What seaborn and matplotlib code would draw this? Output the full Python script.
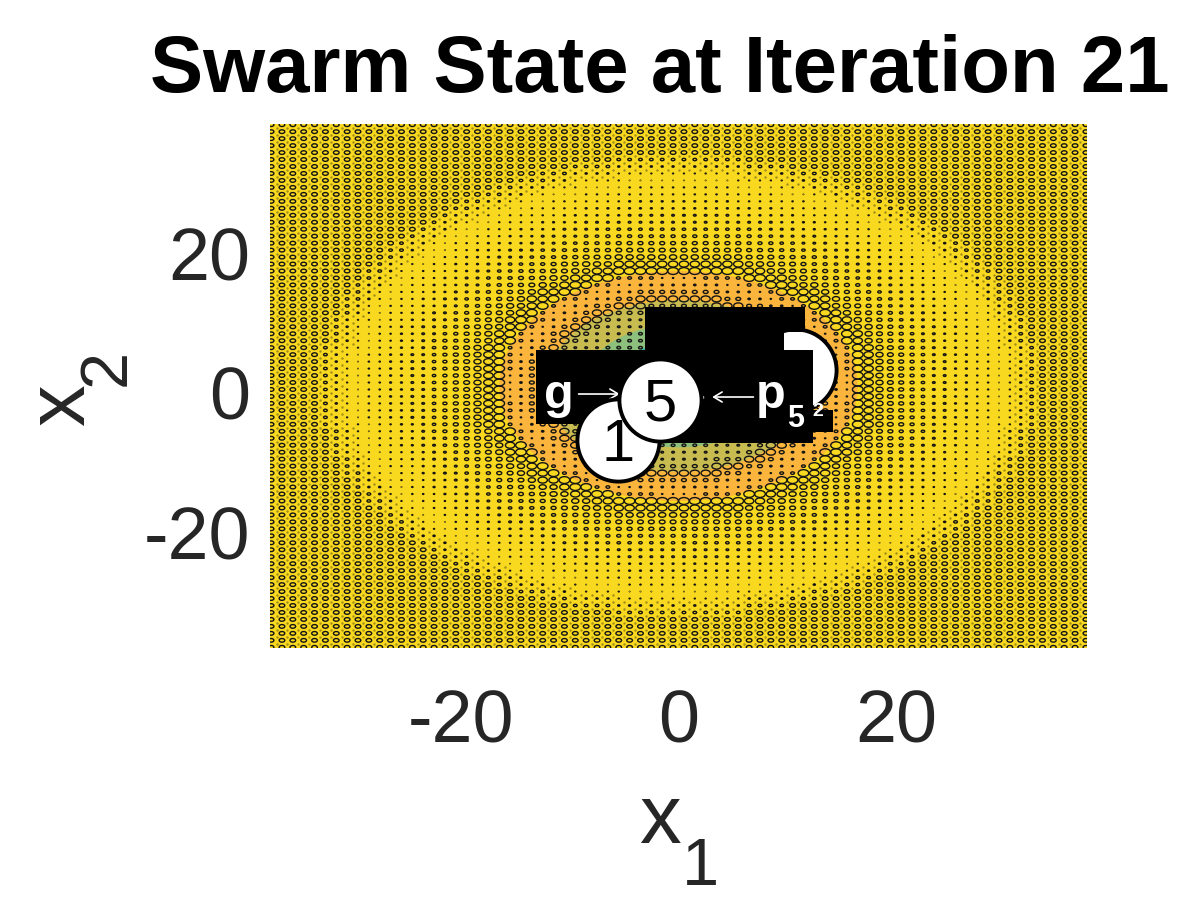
import numpy as np
import pandas as pd
import seaborn as sns
import matplotlib
matplotlib.use("Agg")
import matplotlib.pyplot as plt
from matplotlib.markers import MarkerStyle
from matplotlib.patches import Circle, Rectangle
from matplotlib.transforms import Affine2D, ScaledTranslation

# particles
particle_id = ["2", "1", "5"]
particle_x = [10.7, -5.6, -1.7]
particle_y = [2.3, -7.8, -2.0]

# colour bands, outermost first (radius)
band_radius = [16.5, 12.3, 8.8, 6.3]
band_colour = ["#fbb53c", "#c8bc50", "#8cc07c", "#40b8a0"]

# ring width (in x units) per radius step, no curve fit
step_edges = [9, 11, 12, 13, 14, 15, 15.6, 16.5, 17.5, 18.5, 19.5, 20.5, 21.5,
              22.5, 23.5, 25, 27, 29, 30, 31, 32, 33]
step_width = [0.35, 0.25, 0.45, 0.85, 0.45, 0.22, 0.12, 0.35, 0.98, 0.86, 0.66, 0.54, 0.46,
              0.38, 0.32, 0.25, 0.18, 0.12, 0.05, 0.1, 0.2, 0.34, 0.52]

x_ticks = [-20, 0, 20]
y_ticks = [-20, 0, 20]
limit = 37.6

sns.set_theme(style="white")
plt.rcParams["font.family"] = ["Liberation Sans", "DejaVu Sans"]
plt.rcParams["axes.unicode_minus"] = False

fig = plt.figure(figsize=(12, 9), dpi=100)
ax = fig.add_axes([270 / 1200, 1 - 648 / 900, 817 / 1200, 524 / 900])
ax.set_facecolor("#f9d820")
for radius, colour in zip(band_radius, band_colour):
    ax.add_patch(Circle((0, 0), radius, color=colour, lw=0, zorder=1))

# lattice of local minima, one ring per cell
centres = np.arange(-37.5, 38)
gx, gy = np.meshgrid(centres, centres)
rings = pd.DataFrame({"x": gx.ravel(), "y": gy.ravel()})
rings["width"] = np.array(step_width)[np.digitize(np.hypot(rings.x, rings.y), step_edges)]
ring_sizes = {w: (w * 10.87 * 0.72) ** 2 for w in rings.width.unique()}
ring_marker = MarkerStyle("o", transform=Affine2D().scale(1, 0.642))
sns.scatterplot(data=rings, x="x", y="y", size="width", sizes=ring_sizes, marker=ring_marker,
                facecolor="none", edgecolor="#141414", linewidth=1.0, legend=False, ax=ax, zorder=2)

# faint saddle dots between the outer rings
saddles = np.arange(-37, 38)
sx, sy = np.meshgrid(saddles, saddles)
far = pd.DataFrame({"x": sx.ravel(), "y": sy.ravel()})
far = far[np.hypot(far.x, far.y) > 30.5]
sns.scatterplot(data=far, x="x", y="y", s=3, color="#4a4410", linewidth=0, alpha=0.5,
                legend=False, ax=ax, zorder=2)

parts = pd.DataFrame({"id": particle_id, "x": particle_x, "y": particle_y})
circle_style = dict(x="x", y="y", s=3500, color="white", edgecolor="black", linewidth=2.8,
                    legend=False, ax=ax, clip_on=False)

# particle 2 sits under the black label boxes
sns.scatterplot(data=parts.iloc[[0]], zorder=3, **circle_style)

black_boxes = [(-3.08, 7.74, 14.71, 3.58), (-3.08, 5.16, 12.78, 2.58), (-13.1, -5.44, 25.48, 10.6),
               (-2.6, -8.17, 14.98, 2.73), (12.38, -6.6, 1.82, 3.16)]
for bx, by, bw, bh in black_boxes:
    ax.add_patch(Rectangle((bx, by), bw, bh, color="black", lw=0, zorder=4))

label_style = dict(color="white", ha="center", va="center", fontweight="bold", zorder=5)
ax.text(-11.0, -1.3, "g", fontsize=35, **label_style)
ax.text(8.5, -1.3, "p", fontsize=35, **label_style)
ax.text(10.8, -4.7, "5", fontsize=22, **label_style)
ax.text(12.8, -3.6, "2", fontsize=14, **label_style)
arrow_style = dict(arrowstyle="->,head_length=0.5,head_width=0.3", color="white", lw=1.2,
                   shrinkA=0, shrinkB=0)
ax.annotate("", xy=(-5.4, -1.15), xytext=(-9.2, -1.15), arrowprops=arrow_style, zorder=5)
ax.annotate("", xy=(3.1, -1.58), xytext=(6.9, -1.58), arrowprops=arrow_style, zorder=5)
ax.plot([2.2], [-1.6], marker="o", ms=1.5, color="white", zorder=5)

sns.scatterplot(data=parts.iloc[[1]], zorder=6, **circle_style)
sns.scatterplot(data=parts.iloc[[2]], zorder=7, **circle_style)
for i, z in zip([1, 2], [6, 7]):
    ax.text(particle_x[i], particle_y[i] - 0.7, particle_id[i], color="black", fontsize=43,
            ha="center", va="center", zorder=z)

ax.set_xlim(-limit, limit)
ax.set_ylim(-limit, limit)
ax.set_xticks(x_ticks)
ax.set_yticks(y_ticks)
ax.set_xlabel("")
ax.set_ylabel("")
ax.tick_params(axis="both", length=0, labelsize=53, labelcolor="#262626")
ax.tick_params(axis="x", pad=29)
ax.tick_params(axis="y", pad=14)
for lab in ax.get_yticklabels():
    lab.set_transform(lab.get_transform() + ScaledTranslation(0, -7 / 100, fig.dpi_scale_trans))
for side in ax.spines.values():
    side.set_visible(False)

# axis names: letter and subscript set apart as in the reference
name_style = dict(color="#262626", va="baseline", ha="left", rotation_mode="anchor")
fig.text(639 / 1200, 1 - 843 / 900, "x", fontsize=60, **name_style)
fig.text(682 / 1200, 1 - 885 / 900, "1", fontsize=48, **name_style)
fig.text(84 / 1200, 1 - 426 / 900, "x", fontsize=60, rotation=90, **name_style)
fig.text(125 / 1200, 1 - 386 / 900, "2", fontsize=48, rotation=90, **name_style)

fig.text(660 / 1200, 1 - 92 / 900, "Swarm State at Iteration 21", fontsize=57.4, fontweight="bold",
         color="black", ha="center", va="baseline")

fig.savefig("out.png", dpi=100)
